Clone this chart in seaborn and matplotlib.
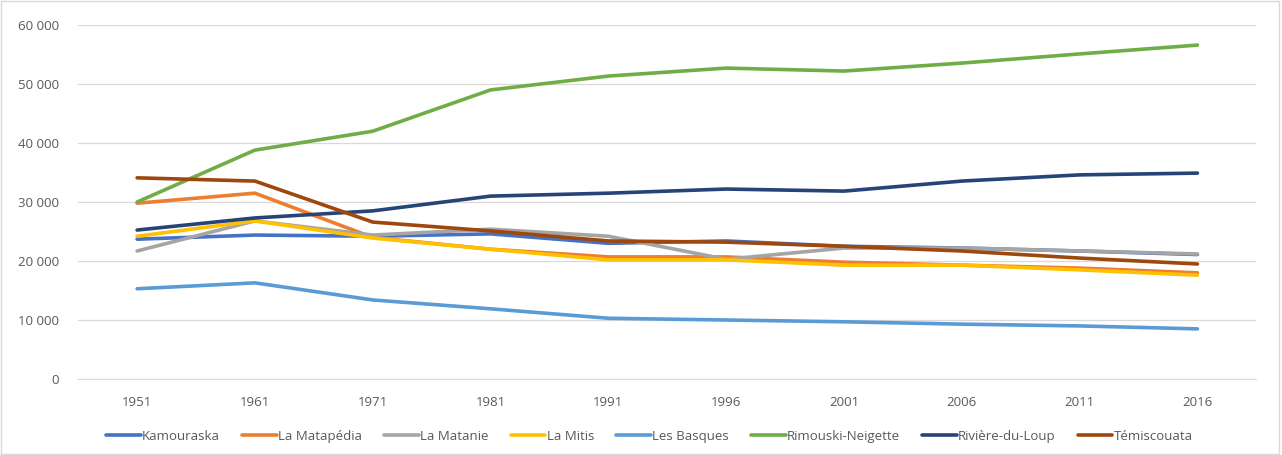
import pandas as pd
import matplotlib.pyplot as plt
import matplotlib.ticker as mticker
import seaborn as sns

years = ['1951', '1961', '1971', '1981', '1991', '1996', '2001', '2006', '2011', '2016']

kamouraska = [23700, 24400, 24200, 24600, 23000, 23400, 22500, 22200, 21700, 21100]
la_matapedia = [29800, 31500, 24000, 22000, 20700, 20700, 19800, 19300, 18800, 18000]
la_matanie = [21700, 26800, 24400, 25400, 24200, 20300, 22200, 22200, 21700, 21200]
la_mitis = [24200, 26800, 23900, 22000, 20200, 20200, 19300, 19300, 18500, 17600]
les_basques = [15300, 16300, 13400, 11900, 10300, 10000, 9700, 9300, 9000, 8500]
rimouski = [30000, 38800, 42000, 49000, 51350, 52700, 52200, 53550, 55100, 56600]
riviere_du_loup = [25250, 27300, 28500, 31000, 31500, 32200, 31850, 33550, 34600, 34900]
temiscouata = [34100, 33550, 26600, 25100, 23400, 23200, 22500, 21700, 20500, 19500]

series = {
    'Kamouraska': kamouraska,
    'La Matapédia': la_matapedia,
    'La Matanie': la_matanie,
    'La Mitis': la_mitis,
    'Les Basques': les_basques,
    'Rimouski-Neigette': rimouski,
    'Rivière-du-Loup': riviere_du_loup,
    'Témiscouata': temiscouata,
}
colors = ['#4472C4', '#ED7D31', '#A5A5A5', '#FFC000', '#5B9BD5', '#70AD47', '#264478', '#9E480E']

rows = []
for name, vals in series.items():
    for yr, v in zip(years, vals):
        rows.append({'year': yr, 'population': v, 'mrc': name})
df = pd.DataFrame(rows)

sns.set_style('white')
plt.rcParams['font.family'] = ['Open Sans', 'DejaVu Sans']

fig = plt.figure(figsize=(12.82, 4.55), dpi=100)
ax = fig.add_axes([0.061, 0.167, 0.919, 0.778])

sns.lineplot(data=df, x='year', y='population', hue='mrc', palette=colors,
             linewidth=2.6, ax=ax, sort=False)

ax.set_xlim(-0.5, len(years) - 0.5)
ax.set_ylim(0, 60000)
ax.yaxis.set_major_locator(mticker.MultipleLocator(10000))
ax.yaxis.set_major_formatter(mticker.FuncFormatter(lambda v, p: f'{int(v):,}'.replace(',', ' ')))
ax.grid(axis='y', color='#D9D9D9', linewidth=0.9)
ax.set_axisbelow(True)
for s in ['top', 'right', 'left']:
    ax.spines[s].set_visible(False)
ax.spines['bottom'].set_color('#D9D9D9')
ax.tick_params(axis='both', length=0, labelsize=9.5, colors='#595959', pad=12)
ax.tick_params(axis='y', pad=14)
ax.set_xlabel('')
ax.set_ylabel('')

handles, labels = ax.get_legend_handles_labels()
ax.legend(handles, labels, loc='upper center', bbox_to_anchor=(0.485, -0.11), ncol=8,
          frameon=False, fontsize=9.5, handlelength=2.6, handletextpad=0.1,
          columnspacing=1.7, labelcolor='#595959')

fig.patches.append(plt.Rectangle((0.001, 0.002), 0.997, 0.995, transform=fig.transFigure,
                                 fill=False, edgecolor='#D9D9D9', linewidth=1))

fig.savefig('out.png', dpi=100)
